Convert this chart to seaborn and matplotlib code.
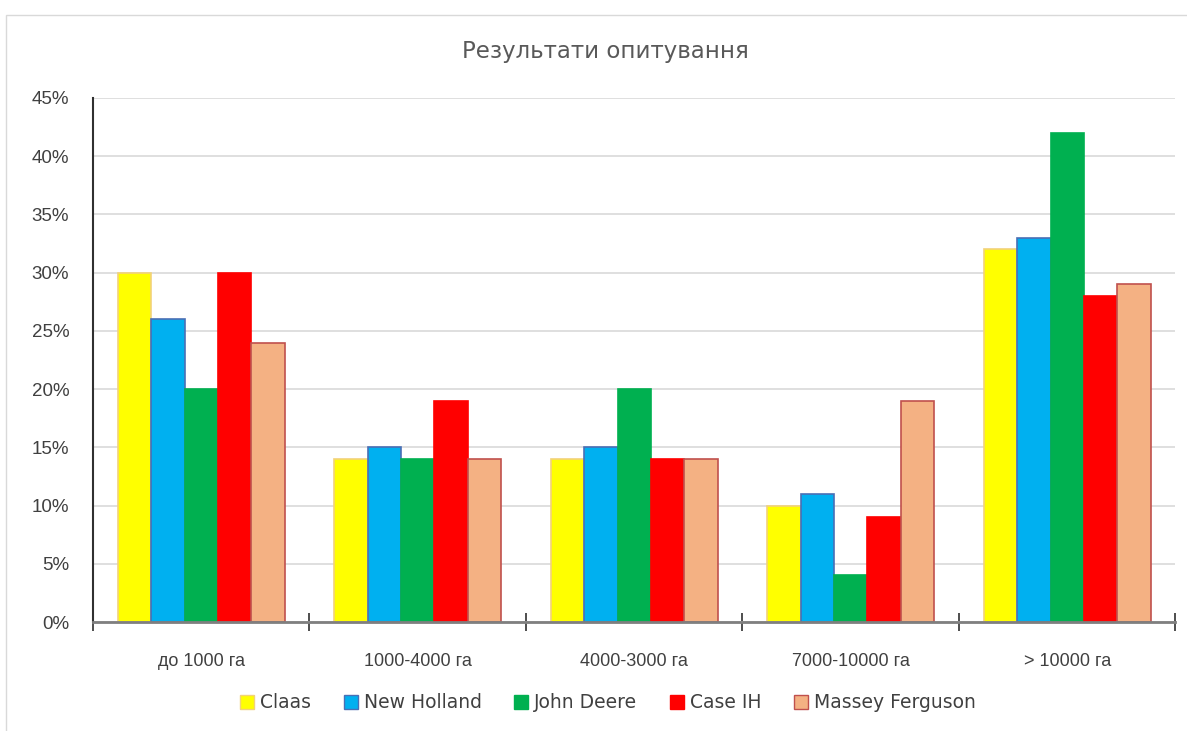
import pandas as pd
import matplotlib.pyplot as plt
import seaborn as sns
from matplotlib.ticker import FuncFormatter, FixedLocator

# data
groups = ['до 1000 га', '1000-4000 га', '4000-3000 га', '7000-10000 га', '> 10000 га']
brands = ['Claas', 'New Holland', 'John Deere', 'Case IH', 'Massey Ferguson']
claas = [30, 14, 14, 10, 32]
new_holland = [26, 15, 15, 11, 33]
john_deere = [20, 14, 20, 4, 42]
case_ih = [30, 19, 14, 9, 28]
massey = [24, 14, 14, 19, 29]

colors = ['#FFFF00', '#00B0F0', '#00B050', '#FF0000', '#F4B183']
edges = ['#F2D27A', '#4A6FB5', '#00B050', '#FF0000', '#C0504D']

series = [claas, new_holland, john_deere, case_ih, massey]
rows = []
for b, vals in zip(brands, series):
    for g, v in zip(groups, vals):
        rows.append({'group': g, 'brand': b, 'value': v})
df = pd.DataFrame(rows)

sns.set_style('white')
plt.rcParams['font.family'] = ['Liberation Sans', 'DejaVu Sans']

fig = plt.figure(figsize=(11.87, 7.31), dpi=100)
ax = fig.add_axes([0.0783, 0.149, 0.912, 0.717])

sns.barplot(data=df, x='group', y='value', hue='brand', order=groups, hue_order=brands,
            palette=colors, width=0.77, gap=0, saturation=1, ax=ax, legend=True)

for cont, ec in zip(ax.containers, edges):
    for p in cont:
        p.set_edgecolor(ec)
        p.set_linewidth(1.2)

ax.set_ylim(0, 45)
ax.set_xlim(-0.5, len(groups) - 0.5)
ax.set_yticks(range(0, 46, 5))
ax.yaxis.set_major_formatter(FuncFormatter(lambda v, p: f'{int(v)}%'))
ax.yaxis.grid(True, color='#D9D9D9', linewidth=1.2)
ax.set_axisbelow(True)

ax.xaxis.set_minor_locator(FixedLocator([i - 0.5 for i in range(len(groups) + 1)]))
ax.tick_params(axis='x', which='major', length=0, pad=22, labelsize=13, labelcolor='#404040')
ax.tick_params(axis='x', which='minor', length=13, width=1.3, color='#404040', direction='inout', bottom=True)
ax.tick_params(axis='y', length=0, labelsize=13.5, labelcolor='#404040', pad=17)

ax.set_xlabel('')
ax.set_ylabel('')
for s in ['top', 'right']:
    ax.spines[s].set_visible(False)
ax.spines['left'].set_color('#303030')
ax.spines['left'].set_linewidth(1.5)
ax.spines['bottom'].set_color('#7F7F7F')
ax.spines['bottom'].set_linewidth(2)

fig.text(0.51, 0.93, 'Результати опитування', ha='center', va='center', fontsize=16.5,
         color='#595959', family=['DejaVu Sans'])

handles, labels = ax.get_legend_handles_labels()
for h, ec in zip(handles, edges):
    h.set_edgecolor(ec)
ax.legend(handles, labels, loc='center', bbox_to_anchor=(0.512, -0.155), ncol=5, frameon=False,
          bbox_transform=fig.transFigure if False else ax.transAxes,
          prop={'family': 'DejaVu Sans', 'size': 13.5}, handlelength=0.75, handleheight=0.75,
          handletextpad=0.3, columnspacing=1.75, labelcolor='#404040')
leg = ax.get_legend()
leg.set_bbox_to_anchor((608 / 1187, 28 / 731), transform=fig.transFigure)

# light frame of the chart area
fig.patches.append(plt.Rectangle((0.005, -0.01), 1.2, 0.99, transform=fig.transFigure,
                                 fill=False, edgecolor='#D9D9D9', linewidth=1))

fig.savefig('out.png', dpi=100)
